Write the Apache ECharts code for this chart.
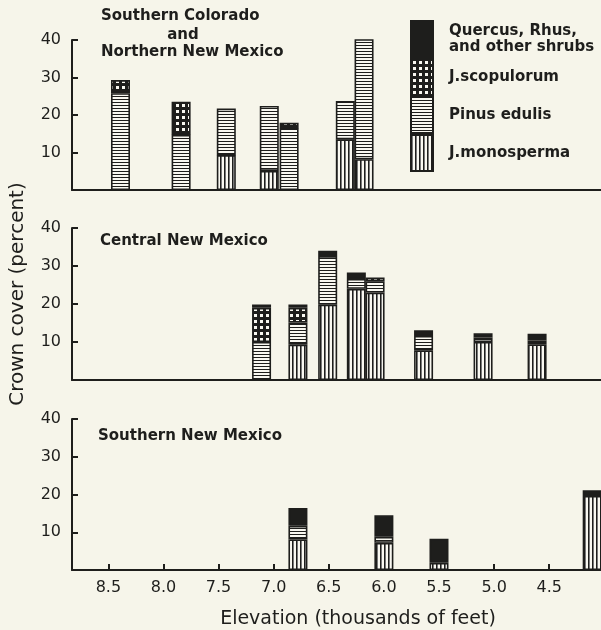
<!DOCTYPE html>
<html><head><meta charset="utf-8">
<script src="https://cdn.jsdelivr.net/npm/echarts@6/dist/echarts.min.js"></script>
<style>html,body{margin:0;padding:0;background:#f6f5ea}#c{width:601px;height:630px}</style>
</head><body><div id="c"></div>
<script>
// ---- data ----
const seriesNames = ['J.monosperma', 'Pinus edulis', 'J.scopulorum', 'Quercus, Rhus,\nand other shrubs'];
const legendOrder = ['Quercus, Rhus,\nand other shrubs', 'J.scopulorum', 'Pinus edulis', 'J.monosperma'];
const elevTicks = [8.5, 8.0, 7.5, 7.0, 6.5, 6.0, 5.5, 5.0, 4.5];
const coverTicks = [10, 20, 30, 40];

// Southern Colorado and Northern New Mexico
const elev1  = [8.39, 7.84, 7.43, 7.04, 6.86, 6.35, 6.18];
const mono1  = [0, 0, 9.3, 5.1, 0, 13.5, 8.2];
const pinus1 = [25.8, 14.7, 12.4, 17.3, 16.5, 10.2, 32.5];
const scop1  = [3.5, 8.8, 0, 0, 1.4, 0, 0];
const quer1  = [0, 0, 0, 0, 0, 0, 0];

// Central New Mexico
const elev2  = [7.11, 6.78, 6.51, 6.25, 6.08, 5.64, 5.10, 4.61];
const mono2  = [0, 9.3, 19.8, 24.0, 23.0, 7.8, 10.0, 9.4];
const pinus2 = [10.0, 5.8, 12.8, 2.6, 3.0, 3.8, 1.2, 1.0];
const scop2  = [9.0, 3.9, 0, 0, 1.0, 0, 0, 0];
const quer2  = [0.9, 0.9, 1.4, 1.7, 0, 1.5, 1.1, 1.8];

// Southern New Mexico
const elev3  = [6.78, 6.0, 5.5, 4.11];
const mono3  = [8.1, 7.2, 1.9, 19.6];
const pinus3 = [3.6, 1.6, 0, 0];
const scop3  = [0, 0, 0, 0];
const quer3  = [4.7, 5.7, 6.4, 1.5];

const panelTitles = [['Southern Colorado', 'and', 'Northern New Mexico'], ['Central New Mexico'], ['Southern New Mexico']];
const xName = 'Elevation (thousands of feet)';
const yName = 'Crown cover (percent)';

// ---- styling ----
const INK = '#1e1e1c', PAPER = '#f9f8f1', BG = '#f6f5ea';
const FONT = 'DejaVu Sans';
function pat(w, h, draw) {
  const c = document.createElement('canvas'); c.width = w; c.height = h;
  const g = c.getContext('2d'); draw(g); return { image: c, repeat: 'repeat' };
}
const vPat = pat(4, 4, g => { g.fillStyle = PAPER; g.fillRect(0, 0, 4, 4); g.fillStyle = INK; g.fillRect(0, 0, 1, 4); g.fillStyle = '#777'; g.fillRect(1, 0, 1, 4); });
const hPat = pat(3, 3, g => { g.fillStyle = PAPER; g.fillRect(0, 0, 3, 3); g.fillStyle = INK; g.fillRect(0, 0, 3, 1); });
const sPat = pat(6, 6, g => { g.fillStyle = INK; g.fillRect(0, 0, 6, 6); g.fillStyle = PAPER; g.fillRect(2, 2, 3, 3); });
const fills = [vPat, hPat, sPat, INK];

const panels = [
  { elev: elev1, vals: [mono1, pinus1, scop1, quer1] },
  { elev: elev2, vals: [mono2, pinus2, scop2, quer2] },
  { elev: elev3, vals: [mono3, pinus3, scop3, quer3] }
];
const gridPos = [{ top: 40, height: 150 }, { top: 228, height: 152 }, { top: 419, height: 151 }];

const series = [];
panels.forEach((p, i) => {
  p.vals.forEach((arr, k) => {
    series.push({
      type: 'bar', name: seriesNames[k], xAxisIndex: i, yAxisIndex: i, stack: 's' + i,
      barWidth: 19, itemStyle: { color: fills[k], borderColor: INK, borderWidth: 1.6 },
      emphasis: { disabled: true },
      dimensions: ['cover', 'elev'],
      encode: { x: 'elev', y: 'cover' },
      data: p.elev.map((e, j) => [arr[j] === 0 ? '-' : arr[j], e])
    });
  });
});

const axisLine = { show: true, onZero: true, lineStyle: { color: INK, width: 2 } };
const option = {
  backgroundColor: BG,
  animation: false,
  grid: gridPos.map(g => ({ left: 72, right: 0, top: g.top, height: g.height })),
  xAxis: [0, 1, 2].map(i => ({
    gridIndex: i, type: 'value', min: 4.03, max: 8.83, inverse: true,
    axisLine: axisLine, splitLine: { show: false },
    axisTick: { show: i === 2, inside: true, length: 6, customValues: elevTicks, lineStyle: { color: INK, width: 2 } },
    axisLabel: { show: i === 2, customValues: elevTicks, formatter: v => v.toFixed(1), margin: 10, fontFamily: FONT, fontSize: 16, color: INK }
  })),
  yAxis: [0, 1, 2].map(i => ({
    gridIndex: i, type: 'value', min: 0, max: 40, interval: 10,
    axisLine: axisLine, splitLine: { show: false },
    axisTick: { show: true, inside: true, length: 6, customValues: coverTicks, lineStyle: { color: INK, width: 2 } },
    axisLabel: { customValues: coverTicks, margin: 11, fontFamily: FONT, fontSize: 16, color: INK }
  })),
  legend: {
    orient: 'vertical', left: 410, top: 20, itemWidth: 22, itemHeight: 36, itemGap: 0, padding: 0,
    icon: 'rect', selectedMode: false, data: legendOrder,
    textStyle: { fontFamily: FONT, fontSize: 15, fontWeight: 'bold', color: INK, lineHeight: 16, padding: [0, 0, 0, 11] }
  },
  graphic: [
    { type: 'text', left: 101, top: 9, style: { text: panelTitles[0][0], font: 'bold 15px "DejaVu Sans"', fill: INK } },
    { type: 'text', x: 183, y: 35, style: { text: panelTitles[0][1], font: 'bold 15px "DejaVu Sans"', fill: INK, align: 'center', verticalAlign: 'middle' } },
    { type: 'text', left: 101, top: 45, style: { text: panelTitles[0][2], font: 'bold 15px "DejaVu Sans"', fill: INK } },
    { type: 'text', left: 100, top: 234, style: { text: panelTitles[1][0], font: 'bold 15px "DejaVu Sans"', fill: INK } },
    { type: 'text', left: 98, top: 429, style: { text: panelTitles[2][0], font: 'bold 15px "DejaVu Sans"', fill: INK } },
    { type: 'text', x: 358, y: 619, style: { text: xName, font: '19px "DejaVu Sans"', fill: INK, align: 'center', verticalAlign: 'middle' } },
    { type: 'text', x: 18, y: 294, rotation: Math.PI / 2, style: { text: yName, font: '20px "DejaVu Sans"', fill: INK, align: 'center', verticalAlign: 'middle' } }
  ],
  series: series
};
const chart = echarts.init(document.getElementById('c'), null, { renderer: 'canvas' });
chart.setOption(option);
</script></body></html>
